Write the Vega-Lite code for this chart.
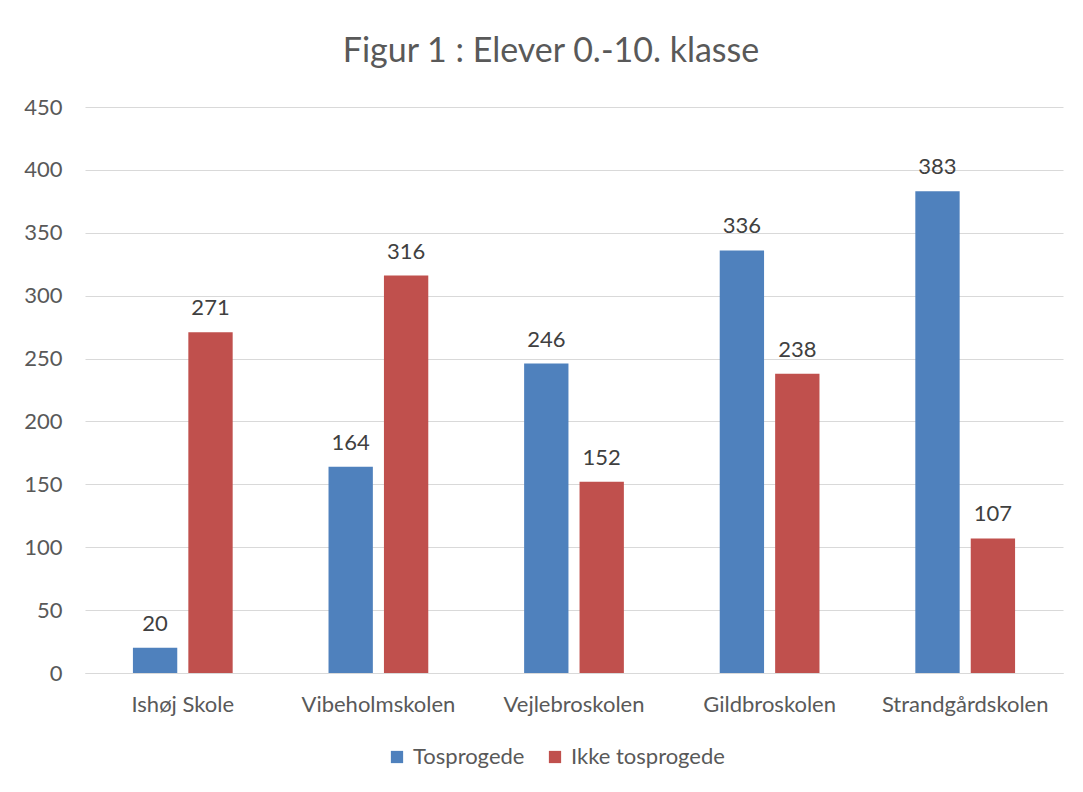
{
  "$schema": "https://vega.github.io/schema/vega-lite/v6.json",
  "autosize": {"type": "none"},
  "width": 978,
  "height": 566,
  "padding": {"left": 85, "top": 107, "right": 20, "bottom": 119},
  "background": "white",
  "title": {
    "text": "Figur 1 : Elever 0.-10. klasse",
    "font": "Lato",
    "fontSize": 34,
    "fontWeight": "normal",
    "color": "#595959",
    "anchor": "middle",
    "dx": -23,
    "offset": 27
  },
  "config": {
    "view": {"stroke": null},
    "font": "Lato"
  },
  "data": {
    "values": [
      {"skole": "Ishøj Skole", "gruppe": "Tosprogede", "antal": 20},
      {"skole": "Ishøj Skole", "gruppe": "Ikke tosprogede", "antal": 271},
      {"skole": "Vibeholmskolen", "gruppe": "Tosprogede", "antal": 164},
      {"skole": "Vibeholmskolen", "gruppe": "Ikke tosprogede", "antal": 316},
      {"skole": "Vejlebroskolen", "gruppe": "Tosprogede", "antal": 246},
      {"skole": "Vejlebroskolen", "gruppe": "Ikke tosprogede", "antal": 152},
      {"skole": "Gildbroskolen", "gruppe": "Tosprogede", "antal": 336},
      {"skole": "Gildbroskolen", "gruppe": "Ikke tosprogede", "antal": 238},
      {"skole": "Strandgårdskolen", "gruppe": "Tosprogede", "antal": 383},
      {"skole": "Strandgårdskolen", "gruppe": "Ikke tosprogede", "antal": 107}
    ]
  },
  "encoding": {
    "x": {
      "field": "skole",
      "type": "nominal",
      "sort": null,
      "scale": {"paddingInner": 0.49, "paddingOuter": 0.245},
      "axis": {
        "title": null,
        "labelAngle": 0,
        "labelFont": "Lato",
        "labelFontSize": 22,
        "labelColor": "#595959",
        "labelPadding": 21,
        "ticks": false,
        "domainColor": "#D9D9D9",
        "domainWidth": 1
      }
    },
    "xOffset": {
      "field": "gruppe",
      "type": "nominal",
      "sort": ["Tosprogede", "Ikke tosprogede"],
      "scale": {"paddingInner": 0.2, "paddingOuter": 0}
    },
    "y": {
      "field": "antal",
      "type": "quantitative",
      "scale": {"domain": [0, 450], "nice": false},
      "axis": {
        "title": null,
        "values": [0, 50, 100, 150, 200, 250, 300, 350, 400, 450],
        "labelFont": "Lato",
        "labelFontSize": 22,
        "labelColor": "#595959",
        "labelPadding": 23,
        "ticks": false,
        "domain": false,
        "gridColor": "#D9D9D9",
        "gridWidth": 1
      }
    }
  },
  "layer": [
    {
      "mark": {"type": "bar"},
      "encoding": {
        "color": {
          "field": "gruppe",
          "type": "nominal",
          "sort": ["Tosprogede", "Ikke tosprogede"],
          "scale": {"domain": ["Tosprogede", "Ikke tosprogede"], "range": ["#4F81BD", "#C0504D"]},
          "legend": {
            "title": null,
            "orient": "none",
            "direction": "horizontal",
            "legendX": 301,
            "legendY": 639,
            "symbolType": "square",
            "symbolSize": 150,
            "symbolStrokeWidth": 0,
            "labelFont": "Lato",
            "labelFontSize": 22,
            "labelColor": "#595959",
            "columnPadding": 19,
            "labelOffset": 5
          }
        }
      }
    },
    {
      "mark": {"type": "text", "baseline": "bottom", "dy": -12, "fontSize": 22, "font": "Lato", "color": "#404040"},
      "encoding": {
        "text": {"field": "antal", "type": "quantitative"}
      }
    }
  ]
}
